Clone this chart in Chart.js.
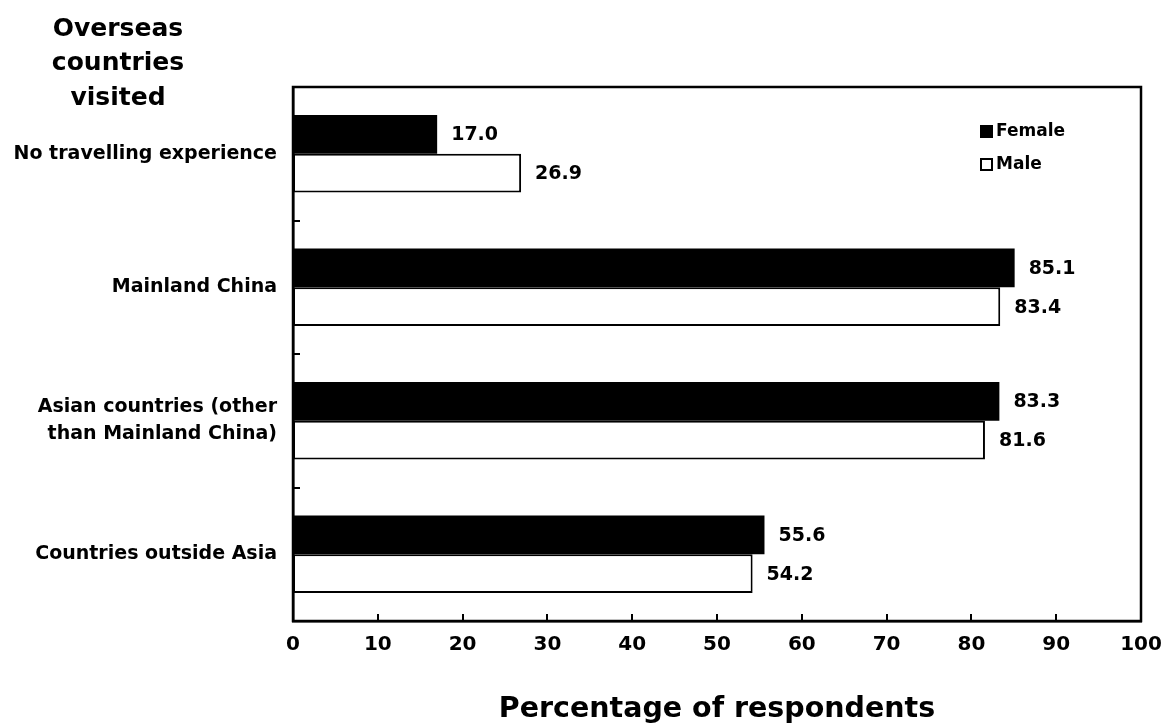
<!DOCTYPE html>
<html>
<head>
<meta charset="utf-8">
<script src="https://cdn.jsdelivr.net/npm/chart.js@4"></script>
<style>
  body { margin: 0; background: #fff; }
  canvas { display: block; }
</style>
</head>
<body>
<canvas id="bars" width="1163" height="723"></canvas>
<script>
const categories = [
  'No travelling experience',
  'Mainland China',
  ['Asian countries (other', 'than Mainland China)'],
  'Countries outside Asia'
];
const femaleValues = [17.0, 85.1, 83.3, 55.6];
const maleValues = [26.9, 83.4, 81.6, 54.2];
const titleLines = ['Overseas', 'countries', 'visited'];
const xTitle = 'Percentage of respondents';

const FONT = '"DejaVu Sans", Verdana, sans-serif';

let ctx = document.getElementById('bars').getContext('2d');

// frame, inner tick marks, value labels, legend and titles
const extras = {
  id: 'extras',
  afterDraw(chart) {
    const c = chart.ctx;
    const a = chart.chartArea;
    const xs = chart.scales.x;
    const ys = chart.scales.y;
    c.save();
    c.strokeStyle = '#000';
    c.lineWidth = 2.5;
    c.strokeRect(a.left, a.top, a.right - a.left, a.bottom - a.top);

    // ticks pointing inwards
    c.lineWidth = 2;
    xs.ticks.forEach(t => {
      if (t.value <= 0 || t.value >= 100) return;
      const px = Math.round(xs.getPixelForValue(t.value));
      c.beginPath();
      c.moveTo(px, a.bottom);
      c.lineTo(px, a.bottom - 7);
      c.stroke();
    });
    for (let i = 0; i < categories.length - 1; i++) {
      const py = Math.round((ys.getPixelForValue(i) + ys.getPixelForValue(i + 1)) / 2);
      c.beginPath();
      c.moveTo(a.left, py);
      c.lineTo(a.left + 7, py);
      c.stroke();
    }

    // value labels
    c.fillStyle = '#000';
    c.font = 'bold 19px ' + FONT;
    c.textAlign = 'left';
    c.textBaseline = 'middle';
    chart.data.datasets.forEach((ds, di) => {
      chart.getDatasetMeta(di).data.forEach((bar, i) => {
        c.fillText(ds.data[i].toFixed(1), bar.x + 14, bar.y + 1);
      });
    });

    // legend
    chart.data.datasets.forEach((ds, di) => {
      const y = 132 + di * 33;
      c.fillStyle = ds.backgroundColor;
      c.fillRect(981, y - 6, 11, 11);
      c.lineWidth = 2;
      c.strokeRect(981, y - 6, 11, 11);
      c.fillStyle = '#000';
      c.font = 'bold 17px ' + FONT;
      c.fillText(ds.label, 996, y);
    });

    // titles
    c.textAlign = 'center';
    c.font = 'bold 25px ' + FONT;
    titleLines.forEach((s, i) => c.fillText(s, 118, 29 + i * 34.5));
    c.textBaseline = 'alphabetic';
    c.font = 'bold 28.5px ' + FONT;
    c.fillText(xTitle, (a.left + a.right) / 2, 717);
    c.restore();
  }
};

let myChart = new Chart(ctx, {
  type: 'bar',
  data: {
    labels: categories,
    datasets: [{
      label: 'Female',
      data: femaleValues,
      backgroundColor: '#000',
      borderColor: '#000',
      borderWidth: 0
    }, {
      label: 'Male',
      data: maleValues,
      backgroundColor: '#fff',
      borderColor: '#000',
      borderWidth: 2,
      borderSkipped: false
    }]
  },
  options: {
    responsive: false,
    animation: false,
    indexAxis: 'y',
    categoryPercentage: 0.58,
    barPercentage: 1,
    layout: { padding: { left: 0, top: 87, right: 22, bottom: 0 } },
    plugins: {
      legend: { display: false },
      tooltip: { enabled: false }
    },
    scales: {
      x: {
        min: 0,
        max: 100,
        ticks: {
          stepSize: 10,
          color: '#000',
          padding: 12,
          font: { family: FONT, size: 20, weight: 'bold' }
        },
        grid: { display: false, drawTicks: false },
        border: { color: '#000', width: 2.5 },
        afterFit(scale) {
          scale.height = 102;
          scale.paddingLeft = 0;
          scale.paddingRight = 0;
        }
      },
      y: {
        ticks: {
          color: '#000',
          padding: 16,
          font: { family: FONT, size: 19, weight: 'bold', lineHeight: 1.45 }
        },
        grid: { display: false, drawTicks: false },
        border: { color: '#000', width: 2.5 },
        afterFit(scale) { scale.width = 293; }
      }
    }
  },
  plugins: [extras]
});
</script>
</body>
</html>
